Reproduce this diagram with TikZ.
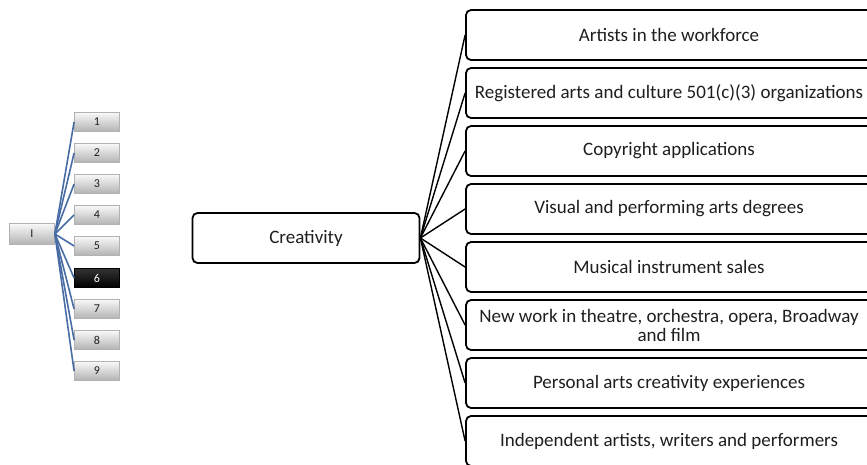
\documentclass[tikz,border=0pt]{standalone}
\usepackage{fontspec}
\setmainfont{Carlito}
\usetikzlibrary{positioning}

\definecolor{linkblue}{RGB}{72,108,164}
\definecolor{boxtext}{RGB}{30,30,30}

\tikzset{
  btn/.style={draw=gray!60, line width=0.8pt, top color=gray!5, bottom color=gray!60,
    minimum width=45pt, minimum height=19pt, inner sep=0pt, font=\fontsize{12}{12}\selectfont, text=boxtext},
  btnon/.style={btn, draw=black, top color=black!80, bottom color=black, text=white},
  item/.style={draw, line width=1.8pt, rounded corners=5pt, minimum width=406pt, minimum height=50pt,
    inner sep=2pt, align=center, font=\fontsize{19}{19}\selectfont, text=boxtext},
  link/.style={line width=1.4pt}
}

\begin{document}
\begin{tikzpicture}[x=1pt,y=-1pt]
    \useasboundingbox (0,0) rectangle (867,464);
    % left navigation tree
    \node[btn, minimum width=45pt, minimum height=21pt] (root) at (32,234) {I};
    \foreach \i/\y in {1/122,2/153,3/184,4/215,5/246,7/309,8/340,9/371}
      \node[btn] (k\i) at (97,\y) {\i};
    \node[btnon] (k6) at (97,278) {6};
    \foreach \i in {1,...,9}
      \draw[linkblue, line width=1.6pt] (root.east) -- (k\i.west);

    % main tree
    \node[item, minimum width=227pt] (cre) at (306,238) {Creativity};
    \node[item] (b1) at (669,35)  {Artists in the workforce};
    \node[item] (b2) at (669,93)  {Registered arts and culture 501(c)(3) organizations};
    \node[item] (b3) at (669,151) {Copyright applications};
    \node[item] (b4) at (669,209) {Visual and performing arts degrees};
    \node[item] (b5) at (669,267) {Musical instrument sales};
    \node[item] (b6) at (669,325) {New work in theatre, orchestra, opera, Broadway\\and film};
    \node[item] (b7) at (669,383) {Personal arts creativity experiences};
    \node[item] (b8) at (669,441) {Independent artists, writers and performers};
    \foreach \j in {1,...,8}
      \draw[link] (cre.east) -- (b\j.west);
\end{tikzpicture}
\end{document}
